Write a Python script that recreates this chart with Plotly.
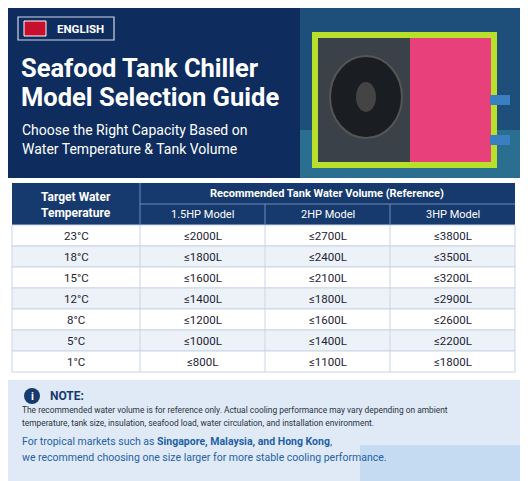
import plotly.graph_objects as go

temps = ["23°C", "18°C", "15°C", "12°C", "8°C", "5°C", "1°C"]
hp15 = ["≤2000L", "≤1800L", "≤1600L", "≤1400L", "≤1200L", "≤1000L", "≤800L"]
hp2 = ["≤2700L", "≤2400L", "≤2100L", "≤1800L", "≤1600L", "≤1400L", "≤1100L"]
hp3 = ["≤3800L", "≤3500L", "≤3200L", "≤2900L", "≤2600L", "≤2200L", "≤1800L"]
models = ["1.5HP Model", "2HP Model", "3HP Model"]

W, H = 528, 481
fig = go.Figure()
shapes, ann = [], []

def rect(x0, y0, x1, y1, fill, line=None, lw=0, layer="below", typ="rect"):
    shapes.append(dict(type=typ, x0=x0, y0=y0, x1=x1, y1=y1, fillcolor=fill,
                       line=dict(color=line or fill, width=lw), layer=layer))

def txt(x, y, t, size, color, bold=False, xa="center", fam="Roboto"):
    ann.append(dict(x=x, y=y, text=f"<b>{t}</b>" if bold else t, showarrow=False,
                    font=dict(size=size, color=color, family=fam), xanchor=xa, yanchor="middle"))

# header
rect(-10, -10, W + 10, 178, "#0e2d5e")
rect(300, -10, W + 10, 178, "#1d4f7a")
rect(300, 130, W + 10, 178, "#2a6f8f")
# chiller
rect(312, 32, 497, 168, "#b8e02a")
rect(318, 38, 410, 162, "#3b4148")
rect(410, 38, 491, 162, "#e8407a")
rect(330, 56, 402, 138, "#1a1d22", "#555", 2, typ="circle")
rect(356, 82, 376, 112, "#444", typ="circle")
rect(490, 95, 510, 105, "#3a7fc0")
rect(490, 135, 510, 145, "#3a7fc0")
# English pill
rect(18, 17, 114, 40, "#0e2d5e", "#cfd8e6", 1.2)
rect(24, 21, 46, 36, "#c8102e", "white", 1)
txt(80, 28.5, "ENGLISH", 11.5, "white", True)
txt(19, 68, "Seafood Tank Chiller", 25.5, "white", True, "left")
txt(19, 97, "Model Selection Guide", 25.5, "white", True, "left")
txt(20, 130, "Choose the Right Capacity Based on", 14, "white", False, "left")
txt(20, 149, "Water Temperature & Tank Volume", 14, "white", False, "left")

# table
cx = [12, 140, 265, 390, 515]
y0, rh1, rh2, rh = 183, 21, 21, 21
navy = "#173a6e"
rect(12, y0, 515, y0 + rh1 + rh2, navy)
shapes.append(dict(type="line", x0=140, x1=515, y0=y0 + rh1, y1=y0 + rh1, line=dict(color="#6f8bb5", width=1)))
for x in cx[2:4]:
    shapes.append(dict(type="line", x0=x, x1=x, y0=y0 + rh1, y1=y0 + rh1 + rh2, line=dict(color="#6f8bb5", width=1)))
shapes.append(dict(type="line", x0=140, x1=140, y0=y0, y1=y0 + rh1 + rh2, line=dict(color="#6f8bb5", width=1)))
txt(76, y0 + 14, "Target Water", 12, "white", True)
txt(76, y0 + 30, "Temperature", 12, "white", True)
txt(327, y0 + rh1 / 2, "Recommended Tank Water Volume (Reference)", 11, "white", True)
for i, m in enumerate(models):
    txt((cx[i + 1] + cx[i + 2]) / 2, y0 + rh1 + rh2 / 2, m, 11, "white")
top = y0 + rh1 + rh2
for r, row in enumerate(zip(temps, hp15, hp2, hp3)):
    ya = top + r * rh
    rect(12, ya, 515, ya + rh, "white" if r % 2 == 0 else "#edf2f9", "#c9d5e6", 1)
    for c in range(1, 4):
        shapes.append(dict(type="line", x0=cx[c], x1=cx[c], y0=ya, y1=ya + rh, line=dict(color="#c9d5e6", width=1)))
    for c, v in enumerate(row):
        txt((cx[c] + cx[c + 1]) / 2, ya + rh / 2, v, 11.5, "#1b2433")

# note
rect(-10, 380, W + 10, H + 10, "#dfeaf6")
rect(360, 445, W + 10, H + 10, "#c4dbf1")
rect(24, 388, 40, 404, navy, typ="circle")
txt(32, 396, "i", 11, "white", True)
txt(48, 396, "NOTE:", 12, navy, True, "left")
txt(20, 410, "The recommended water volume is for reference only. Actual cooling performance may vary depending on ambient", 8.4, "#2b3340", False, "left")
txt(20, 423, "temperature, tank size, insulation, seafood load, water circulation, and installation environment.", 8.4, "#2b3340", False, "left")
txt(20, 441, "For tropical markets such as <b>Singapore, Malaysia, and Hong Kong</b>,", 10.5, "#1f5fa8", False, "left")
txt(20, 457, "we recommend choosing one size larger for more stable cooling performance.", 10.5, "#1f5fa8", False, "left")

# body has an 8px margin: shift ranges so screen pixels match the reference
fig.update_layout(width=W, height=H, margin=dict(l=0, r=0, t=0, b=0),
                  paper_bgcolor="white", plot_bgcolor="white", shapes=shapes, annotations=ann,
                  xaxis=dict(range=[8, W + 8], visible=False, fixedrange=True),
                  yaxis=dict(range=[H + 8, 8], visible=False, fixedrange=True), showlegend=False)
fig.write_html("out.html")
